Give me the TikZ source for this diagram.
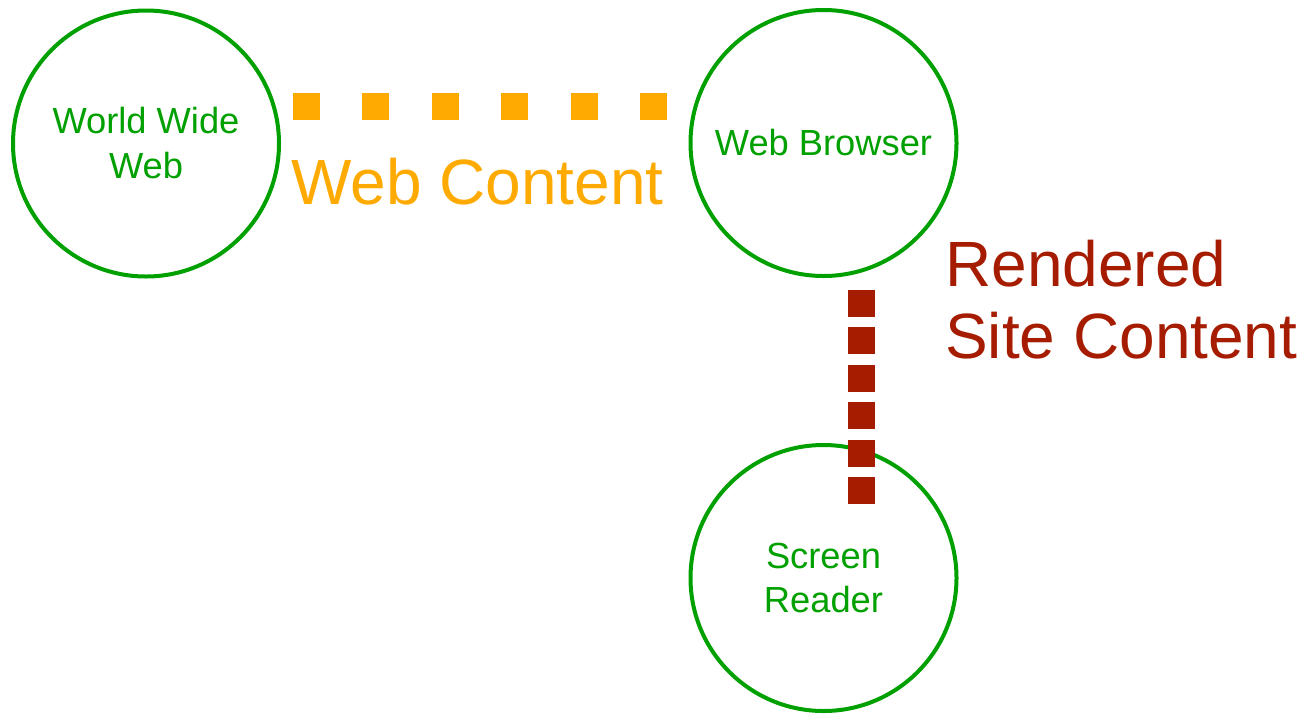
\documentclass[tikz,border=0pt]{standalone}
\usepackage{fontspec}
\setmainfont{Liberation Sans}
\definecolor{nodegreen}{RGB}{0,160,0}
\definecolor{webor}{RGB}{255,170,0}
\definecolor{rendred}{RGB}{166,28,0}
\begin{document}
\begin{tikzpicture}[x=1pt,y=-1pt,
  station/.style={circle,draw=nodegreen,line width=4pt,minimum size=266pt,inner sep=0pt,
    text=nodegreen,align=center,font=\fontsize{36.3}{44}\selectfont},
  biglabel/.style={inner sep=0pt,align=left,font=\fontsize{64}{72}\selectfont},
  flow/.style={line width=27pt,line cap=butt}]
\useasboundingbox (0,0) rectangle (1305,713);
\node[station] (www) at (146,143.5) {World Wide\\[1pt]Web};
\node[station] (wb) at (823.5,143) {Web Browser};
\node[station] (sr) at (823.5,578) {Screen\\Reader};
\coordinate (oa) at (293,106.5);
\coordinate (ob) at (667,106.5);
\coordinate (ra) at (861.5,290);
\coordinate (rb) at (861.5,504);
\draw[flow,webor,dash pattern=on 27pt off 42.4pt] (oa) -- (ob);
\draw[flow,rendred,dash pattern=on 27pt off 10.4pt] (ra) -- (rb);
\node[biglabel,text=webor,anchor=base west] (wc) at (291,204) {Web Content};
\node[biglabel,text=rendred,anchor=base west] (rc) at (945,358) {Rendered\\Site Content};
\end{tikzpicture}
\end{document}
